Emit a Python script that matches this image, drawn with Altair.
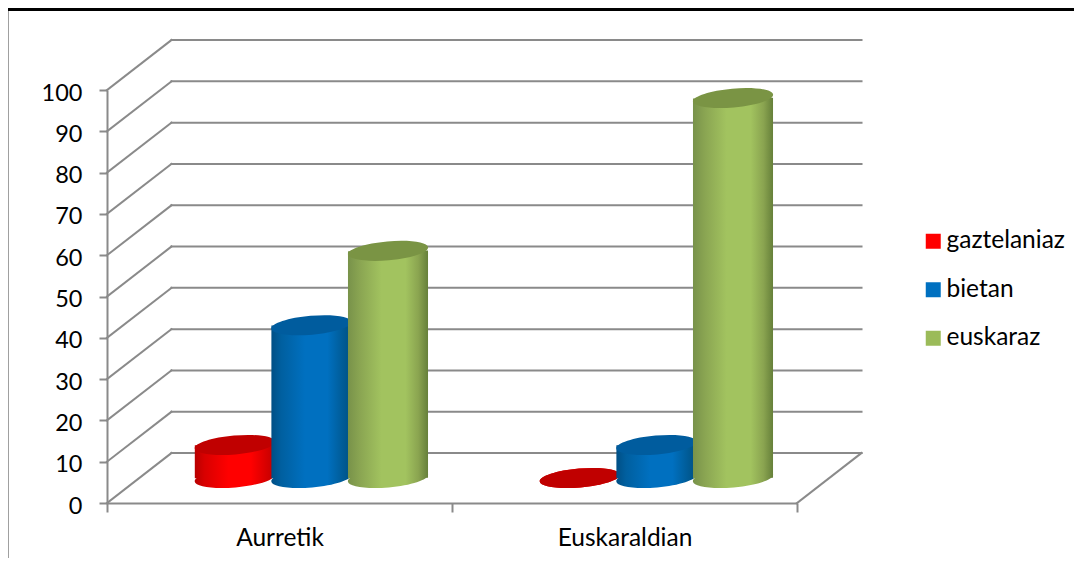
import math
import altair as alt
import pandas as pd

categories = ["Aurretik", "Euskaraldian"]
series = ["gaztelaniaz", "bietan", "euskaraz"]
gaztelaniaz = [8, 0]
bietan = [37, 8]
euskaraz = [55, 92]
values = [gaztelaniaz, bietan, euskaraz]
y_ticks = list(range(0, 101, 10))

legend_colors = ["#ff0000", "#0070c0", "#9bbb59"]
top_colors = ["#c00000", "#005c9e", "#7a9444"]
side_stops = [
    [(0, "#b80000"), (0.12, "#d80000"), (0.42, "#ff0000"), (0.7, "#ff0000"), (1, "#c00000")],
    [(0, "#004f85"), (0.12, "#005f9f"), (0.42, "#0070c0"), (0.7, "#0070c0"), (1, "#005080")],
    [(0, "#78924a"), (0.15, "#8aa552"), (0.42, "#a2c35f"), (0.72, "#a2c35f"), (0.88, "#8aa450"), (1, "#66803a")],
]
GRID = "#8a8a8a"
FONT = "Lato"
FS_TEXT = 24.5
FS_NUM = 23.5

# depth of the pseudo-3D floor, in scale units
DX, DZ = 0.187, 12.1
SPACING, HALF_W, TILT, HALF_H = 0.222, 0.116, 0.085, 6.05


def grad(stops):
    return alt.Gradient(gradient="linear", x1=0, x2=1, y1=0, y2=0,
                        stops=[alt.GradientStop(offset=o, color=c) for o, c in stops])


def ellipse_path(a=1.0, b=0.235, deg=-5.0):
    t = math.radians(deg)
    k = 0.5523

    def r(x, y):
        return f"{x*math.cos(t)-y*math.sin(t):.4f},{x*math.sin(t)+y*math.cos(t):.4f}"

    return (f"M{r(-a,0)}C{r(-a,-k*b)} {r(-k*a,-b)} {r(0,-b)}"
            f"C{r(k*a,-b)} {r(a,-k*b)} {r(a,0)}"
            f"C{r(a,k*b)} {r(k*a,b)} {r(0,b)}"
            f"C{r(-k*a,b)} {r(-a,k*b)} {r(-a,0)}Z")


SHAPE = ellipse_path()
SIZE = 80.5 ** 2

xs = alt.Scale(domain=[0, 2], nice=False, zero=False)
ys = alt.Scale(domain=[0, 100], nice=False, zero=False)

label_expr = (f"datum.value==0.5?'{categories[0]}':"
              f"datum.value==1.5?'{categories[1]}':''")
x_axis = alt.Axis(values=[0, 0.5, 1, 1.5, 2], title=None, grid=False, labelExpr=label_expr,
                  domainColor=GRID, domainWidth=2, tickColor=GRID, tickWidth=2, tickSize=9,
                  tickOpacity={"condition": {"test": "datum.value==0.5||datum.value==1.5", "value": 0}, "value": 1},
                  labelFont=FONT, labelFontSize=FS_TEXT, labelColor="#000000", labelPadding=14,
                  labelOverlap=False, labelBound=False, labelFlush=False, labelAngle=0)
y_axis = alt.Axis(values=y_ticks, title=None, grid=False,
                  domainColor=GRID, domainWidth=2, tickColor=GRID, tickWidth=2, tickSize=8,
                  labelFont=FONT, labelFontSize=FS_NUM, labelColor="#000000", labelPadding=17, labelOffset=3,
                  labelOverlap=False, labelBound=False, labelFlush=False)

grid_rows = []
for v in y_ticks:
    grid_rows.append(dict(x=0, x2=DX, y=v, y2=v + DZ))
    grid_rows.append(dict(x=DX, x2=2 + DX, y=v + DZ, y2=v + DZ))
grid_rows.append(dict(x=2, x2=2 + DX, y=0, y2=DZ))
grid = alt.Chart(pd.DataFrame(grid_rows)).mark_rule(color=GRID, strokeWidth=2, strokeCap="square").encode(
    x=alt.X("x:Q", scale=xs, axis=x_axis),
    y=alt.Y("y:Q", scale=ys, axis=y_axis),
    x2="x2:Q",
    y2="y2:Q",
)

layers = [grid]
for si in range(len(series)):
    for ci in range(len(categories)):
        v = values[si][ci]
        cx = ci + 0.5 + DX / 2 - 0.001 + (si - 1) * SPACING
        base = HALF_H
        body = pd.DataFrame([
            dict(x=cx - HALF_W, y=base + v - TILT, y2=base - TILT),
            dict(x=cx + HALF_W, y=base + v + TILT, y2=base + TILT),
        ])
        ends = pd.DataFrame([dict(x=cx, low=base, high=base + v)])
        fill = grad(side_stops[si])
        enc_x = alt.X("x:Q", scale=xs)
        layers.append(
            alt.Chart(ends).mark_point(shape=SHAPE, size=SIZE, filled=True, fill=fill, opacity=1, strokeWidth=0)
            .encode(x=enc_x, y=alt.Y("low:Q", scale=ys))
        )
        layers.append(
            alt.Chart(body).mark_area(orient="vertical", fill=fill, opacity=1, interpolate="linear")
            .encode(x=enc_x, y=alt.Y("y:Q", scale=ys), y2="y2:Q")
        )
        layers.append(
            alt.Chart(ends).mark_point(shape=SHAPE, size=SIZE, filled=True, fill=top_colors[si], opacity=1, strokeWidth=0)
            .encode(x=enc_x, y=alt.Y("high:Q", scale=ys))
        )

legend_layer = alt.Chart(pd.DataFrame({"s": series, "x": [0, 0, 0], "y": [0, 0, 0]})).mark_point(
    filled=True, opacity=0, size=1, shape="square"
).encode(
    x=alt.X("x:Q", scale=xs),
    y=alt.Y("y:Q", scale=ys),
    color=alt.Color("s:N", scale=alt.Scale(domain=series, range=legend_colors),
                    legend=alt.Legend(title=None, orient="none", legendX=814, legendY=139,
                                      symbolType="square", symbolSize=225, symbolOpacity=1,
                                      symbolStrokeWidth=0, labelFont=FONT, labelFontSize=FS_TEXT,
                                      labelColor="#000000", rowPadding=23.5, labelOffset=1,
                                      labelLimit=300)),
)
layers.append(legend_layer)

# slide frame remains
left_edge = alt.Chart(pd.DataFrame({"a": [0]})).mark_rule(color="#a0a0a0", strokeWidth=1).encode(
    x=alt.value(-98.5), y=alt.value(-82), y2=alt.value(468))
top_edge = alt.Chart(pd.DataFrame({"a": [0]})).mark_rule(color="#000000", strokeWidth=3).encode(
    x=alt.value(-99), x2=alt.value(967), y=alt.value(-80.5))
layers += [left_edge, top_edge]

chart = alt.layer(*layers).properties(
    width=690, height=413,
    padding={"left": 99, "top": 82, "right": 277, "bottom": 55},
    autosize=alt.AutoSizeParams(type="none"),
    background="#ffffff",
).configure_view(stroke=None)

chart.save("out.html", embed_options={"renderer": "svg", "actions": False})
